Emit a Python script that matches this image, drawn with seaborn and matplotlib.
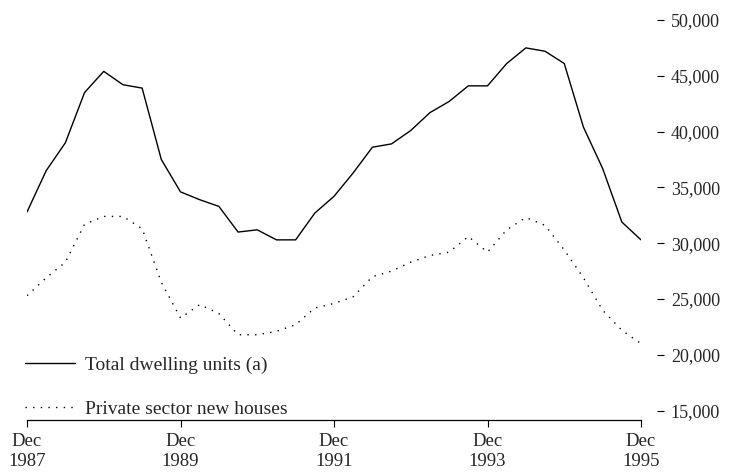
import pandas as pd
import numpy as np
import matplotlib
matplotlib.use("Agg")
import matplotlib.pyplot as plt
import seaborn as sns

# quarterly data, Dec 1987 to Dec 1995
quarters = pd.date_range("1987-12-31", "1995-12-31", freq="QE-DEC")

total_dwellings = [32800, 36500, 39000, 43500, 45400, 44200, 43900, 37500,
                   34600, 33900, 33300, 31000, 31200, 30300, 30300, 32700,
                   34200, 36300, 38600, 38900, 40100, 41700, 42700, 44100,
                   44100, 46100, 47500, 47200, 46100, 40400, 36700, 31900,
                   30300]

private_houses = [25300, 26900, 28300, 31700, 32400, 32400, 31300, 26500,
                  23300, 24500, 23700, 21800, 21800, 22100, 22700, 24200,
                  24600, 25200, 27000, 27500, 28300, 28900, 29200, 30600,
                  29200, 31200, 32300, 31600, 29400, 26900, 24000, 22200,
                  21000]

tick_positions = [0, 8, 16, 24, 32]
tick_labels = ["Dec\n1987", "Dec\n1989", "Dec\n1991", "Dec\n1993", "Dec\n1995"]
y_ticks = [15000, 20000, 25000, 30000, 35000, 40000, 45000, 50000]

series_names = ["Total dwelling units (a)", "Private sector new houses"]

df = pd.DataFrame({
    "q": list(range(len(quarters))) * 2,
    "value": total_dwellings + private_houses,
    "series": [series_names[0]] * len(quarters) + [series_names[1]] * len(quarters),
})

sns.set_theme(style="white")
plt.rcParams["font.family"] = ["Liberation Serif", "DejaVu Serif"]

fig = plt.figure(figsize=(7.33, 4.73), dpi=100)
ax = fig.add_axes([27 / 733, 1 - 420 / 473, 614 / 733, 400 / 473])

sns.lineplot(data=df, x="q", y="value", hue="series", style="series",
             palette=["black", "black"],
             dashes={series_names[0]: "", series_names[1]: (1, 4.5)},
             linewidth=1.0, ax=ax)

ax.set_xlim(0, 32)
ax.set_ylim(14160, 50000)
ax.set_xlabel("")
ax.set_ylabel("")

# x axis: dates under the line
ax.set_xticks(tick_positions)
ax.set_xticklabels(tick_labels, fontsize=13.5, linespacing=1.25)
ax.tick_params(axis="x", direction="out", length=5, width=0.8, color="black",
               bottom=True, pad=4)

# y axis on the right, detached
ax.yaxis.tick_right()
ax.set_yticks(y_ticks)
ax.set_yticklabels([f"{v:,}" for v in y_ticks])
ax.tick_params(axis="y", direction="out", length=5, width=0.8, color="black",
               right=True, left=False, pad=5, labelsize=13)
ax.spines["right"].set_position(("outward", 11.5))

for side in ["top", "left", "right"]:
    ax.spines[side].set_visible(False)
ax.spines["bottom"].set_color("black")
ax.spines["bottom"].set_linewidth(0.9)

leg = ax.legend(loc="lower left", bbox_to_anchor=(-0.004, 0.006), frameon=False,
                fontsize=14, handlelength=2.6, labelspacing=1.35,
                handletextpad=0.5, borderaxespad=0, borderpad=0)
for line in leg.get_lines():
    line.set_linewidth(1.0)

fig.savefig("out.png", dpi=100)
